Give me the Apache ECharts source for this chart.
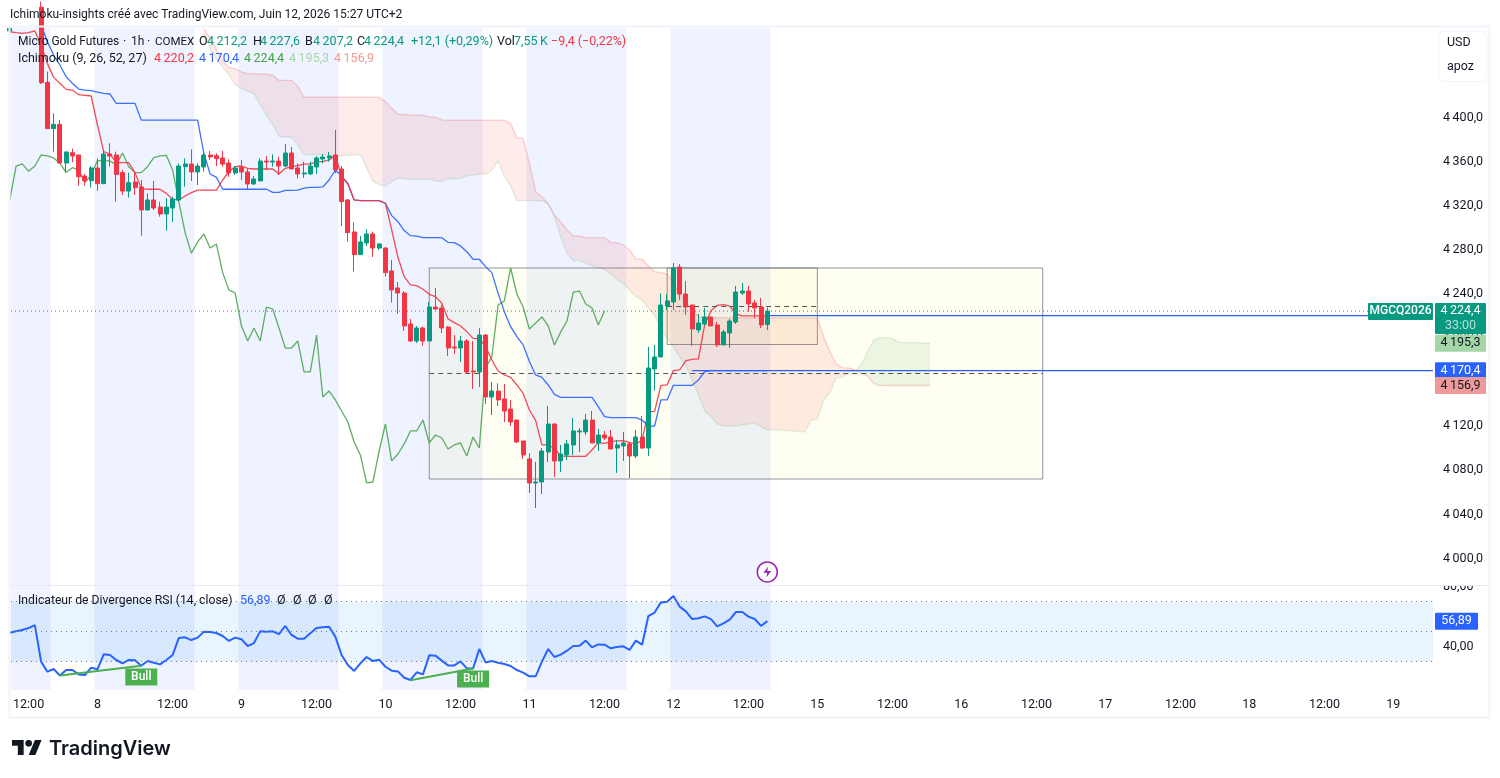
<!DOCTYPE html>
<html><head><meta charset="utf-8">
<style>html,body{margin:0;padding:0;background:#fff}#c{width:1500px;height:778px}</style>
<script src="https://cdn.jsdelivr.net/npm/echarts@6/dist/echarts.min.js"></script>
</head><body><div id="c"></div>
<script>
// hourly bars: index 0 of each array is bar -106 (bar 0 = June 12 00:00)
const firstBar = -106;
const opens = [4478.5,null,null,null,null,4500,4431.9,4389.9,4393.8,4358.7,
4368.1,4366,4346.9,4342.7,4354.2,4340,4366.9,4366,4350,4333.3,
4341.5,4337,4316.1,4325.2,4318.8,4312.5,4317.9,4325.2,4355.4,4357.8,
4350.6,4355.1,4366,4365.4,4363.3,4358.7,4349.7,4355.1,4350.6,4339.7,
4342.4,4360.5,4359.6,4360.5,4356,4367.8,4354.2,4348.8,4348.8,4355.1,
4362.4,4363.3,4366,4353.3,4325.2,4296.2,4275.6,4286.2,4294.4,4281.6,
4281.6,4260.8,4245.4,4240.8,4212.7,4197.3,4209.1,4197.3,4228.1,4227.2,
4210,4191.8,4190.9,4197.3,4170.1,4169.2,4202.7,4146.5,4151.9,4144.7,
4135.6,4125.6,4106.6,4090.3,4068.5,4069.4,4096.6,4122,4088.5,4093.9,
4103,4114.8,4114.8,4125.6,4104.8,4112,4110.2,4100.2,4102.1,4103.9,
4093,4110.2,4100.2,4171.9,4182.8,4229,4232.7,4264.4,4239.9,4229.9,
4207.3,4212.7,4219.1,4211.8,4193.7,4204.5,4214.5,4240.8,4242.6,4231.8,
4228.1,4212.2];
const closes = [4481,null,null,null,null,4431.6,4389.9,4393.8,4358.7,4368.7,
4365.1,4346.3,4342.7,4354.2,4340,4366.9,4365,4348.2,4333.3,4340.9,
4336.4,4316.1,4325.2,4317.9,4312.5,4318.8,4326.1,4356,4357.8,4350.6,
4356,4366,4364.2,4362.7,4357.8,4349.7,4354.2,4350.6,4339.7,4344.2,
4360.5,4359.6,4360.5,4356,4367.8,4353.3,4348.8,4349.7,4356,4363.3,
4364.2,4365.1,4352.4,4323.7,4295.6,4275.6,4287.1,4294.4,4281.6,4285.3,
4259.3,4243.6,4240.8,4210.9,4197.3,4209.1,4197.3,4228.1,4226.3,4209.1,
4190.9,4190.9,4197.3,4169.2,4169.2,4202.7,4146.5,4151.9,4143.8,4133.8,
4123.8,4105.7,4093.9,4068.5,4069.4,4097.5,4122,4088.5,4094.8,4103.9,
4115.7,4115.7,4125.6,4104.8,4112,4109.3,4099.3,4103,4104.8,4093,
4110.2,4100.2,4172.8,4182.8,4229.9,4233.6,4263.5,4239.9,4228.1,4208.2,
4213.6,4219.1,4210.9,4193.7,4205.5,4215.4,4241.7,4242.6,4230.9,4227.2,
4211.8,4224.4];
const lows = [4478,null,null,null,null,4430.4,4389.9,4369,4358.7,4350,
4359.6,4338.2,4338.2,4336.4,4333.6,4340,4355.4,4323.7,4329.7,4327.3,
4329.7,4292.8,4316.1,4316.1,4310.1,4297.4,4305.2,4323.7,4337.3,4342.4,
4338.8,4350.9,4361.5,4356,4355.4,4346.3,4347.9,4343.3,4335.2,4338.8,
4342.4,4352.4,4355.4,4347.9,4355.1,4353.3,4344.8,4345.1,4347.9,4348.8,
4358.4,4359.9,4349.4,4301.6,4287.4,4260.2,4275.6,4283.5,4273.5,4279.8,
4255.7,4232.1,4221.8,4206.4,4196.4,4195.5,4192.8,4197.3,4225.4,4204.6,
4183.7,4185.5,4178.3,4167.4,4153.8,4155.6,4140.2,4130.2,4138.3,4123.8,
4120.2,4104.8,4090.3,4059.4,4045.8,4058.5,4087.6,4073.9,4078.5,4089.4,
4093.9,4096.6,4112,4104.8,4097.5,4107.5,4099.3,4077.6,4088.5,4073,
4091.2,4099.3,4093,4152.2,4182.8,4225.4,4225.4,4234.5,4220.9,4192.8,
4204.5,4210.9,4210.9,4191.9,4193.7,4190.9,4212.7,4239,4223.9,4218.1,
4209.1,4207.2];
const highs = [4482,null,null,null,null,4505,4441.6,4403.8,4397.7,4369.3,
4371.7,4366,4348.8,4356,4363,4369.6,4376.6,4369,4352.4,4350,
4350,4343.3,4331.2,4342.4,4323.7,4326.7,4328.2,4358.4,4363,4371.1,
4358.4,4369.6,4369.6,4367.5,4369.6,4362,4356,4361.5,4353.3,4346.9,
4363,4365.1,4366.6,4364.5,4376,4373.2,4358.4,4359.9,4359.9,4365.1,
4366.9,4368.7,4388.7,4356,4326,4304.9,4292.5,4298.6,4296.5,4285.9,
4282.3,4270.8,4250.8,4242.6,4217.3,4210.9,4210.3,4232.7,4245.4,4229.9,
4210.9,4202.7,4201.8,4199.1,4197.3,4208.8,4203.6,4160.1,4158.9,4158.3,
4143.8,4125.6,4106.6,4095.4,4087.6,4100.2,4138.3,4122.6,4103,4107.5,
4127.4,4118.4,4131.1,4133.8,4117.5,4115.7,4116.6,4107.5,4114.8,4106,
4116.6,4129.3,4191.9,4193.7,4240.5,4239.9,4268,4267.1,4251.7,4229.9,
4221.8,4227.2,4219.1,4214.5,4207.3,4217.2,4247.2,4249.9,4247.2,4234.5,
4236.3,4227.6];
// Ichimoku
const tenkan = [4477.8,4476.9,4476.3,4476.9,4478.5,4465.8,4449.1,4436.4,4431,4425.5,
4424.9,4420.7,4420.1,4419.5,4393.2,4369,4366.9,4359,4359,4359,
4350,4335.8,4334.9,4334.9,4334.9,4331.2,4325.8,4325.2,4328.8,4331.8,
4334.2,4334.2,4334.2,4334.2,4343.3,4350.9,4355.4,4356,4353.9,4353.3,
4353.3,4353.3,4353.3,4348.8,4353.9,4355.4,4356.3,4357.8,4357.8,4359.9,
4359.9,4361.5,4366,4346.3,4340.3,4325.2,4324.6,4324.6,4324.6,4324.6,
4322.2,4298,4273.2,4255.6,4248.1,4247.5,4244.2,4239.6,4237.5,4231.5,
4217.3,4213.9,4210.9,4205.8,4199.7,4199.4,4192.2,4180,4170.1,4166.5,
4164.3,4157.4,4149.8,4134.7,4125,4103,4103,4100,4093,4092.7,
4092.7,4092.7,4092.7,4098.4,4105.1,4104.5,4106,4106.6,4106.9,4105.1,
4103.9,4107.5,4132.9,4133.5,4157.1,4157.4,4170.4,4171,4179.5,4180.7,
4181,4211.8,4224.8,4229.6,4230.2,4229,4221.8,4220,4220,4220,
4220,4220.2];
const kijunStart = -101;
const kijun = [4484,4468.8,4456.7,4447.6,4437,4431,4425.8,4424.9,4424.3,4423.1,
4421.9,4421.3,4412.8,4412.8,4412.8,4412.8,4397.7,4397.7,4397.7,4397.7,
4397.7,4397.7,4397.7,4397.7,4397.7,4397.7,4367.5,4348.8,4345.7,4334.9,
4334.9,4334.9,4334.9,4334.9,4334.9,4334.9,4334.9,4332.1,4332.1,4333.9,
4333.9,4334.2,4336,4336.7,4336.7,4337,4343.3,4352.4,4346.9,4339.7,
4325.2,4324.6,4324.6,4324.6,4324.6,4322.2,4311,4305.5,4297.4,4292.8,
4292.5,4291,4291,4291,4291,4286.8,4286.5,4283.5,4278.3,4271.4,
4271.4,4264.7,4259.3,4240.5,4223.9,4210.3,4201.2,4193.7,4178.6,4166.5,
4164.3,4157.4,4148.9,4146.2,4146.2,4146.2,4146.2,4146.2,4146.2,4137.7,
4128.7,4127.8,4127.8,4127.8,4127.8,4127.8,4125.6,4119.9,4120.2,4143.8,
4143.8,4157.1,4157.1,4157.1,4157.1,4161.9,4169.5,4170.4,4170.4,4170.4,
4170.4,4170.4,4170.4,4170.4,4170.4,4170.4,4170.4];
const chikou = [4325.2,4356,4357.9,4351.2,4356,4366,4365.1,4363.3,4358.5,4350.3,
4354.5,4352.4,4340.9,4347.9,4360.9,4360.9,4360.6,4357,4367.8,4355.4,
4350,4350,4355.4,4363.6,4365.1,4365.7,4352.4,4323.7,4295.6,4277,
4287.1,4294.4,4281.6,4285.3,4259.3,4243.6,4240.8,4210.9,4197.3,4209.1,
4197.3,4228.1,4226.3,4209.1,4190.9,4190.9,4197.3,4169.2,4169.2,4202.7,
4146.5,4151.9,4143.8,4133.8,4123.8,4105.7,4093.9,4068.5,4069.4,4097.5,
4122,4088.5,4094.8,4103.9,4115.7,4115.7,4125.6,4104.8,4112,4109.3,
4099.3,4103,4104.8,4093,4110.2,4100.2,4172.8,4182.8,4229.9,4233.6,
4263.5,4239.9,4228.1,4208.2,4213.6,4219.1,4210.9,4193.7,4205.5,4215.4,
4241.7,4242.6,4230.9,4227.2,4211.8,4224.4];
const cloudStart = -75;
const leadA = [4475.8,4462.5,4453.4,4445.5,4438.9,4429.8,4426.2,4423.8,4421.6,4411.7,
4402,4393.5,4382.9,4382.3,4382.3,4375.4,4366.3,4366.3,4366.3,4366.3,
4365.1,4364.8,4365.1,4365.7,4366,4366.3,4354.2,4342.1,4339.1,4337.9,
4341.8,4345.2,4344.5,4343.9,4343.9,4343.9,4343.9,4342.4,4341.8,4344.5,
4344.5,4344.8,4347,4347.9,4348.5,4348.5,4351.8,4360.6,4346.4,4337.9,
4324.6,4324.6,4324.6,4324.6,4324.6,4321.6,4310.1,4291.9,4276.8,4270.2,
4270.2,4267.8,4265.6,4263.8,4262.3,4258,4253,4249.6,4243.5,4237.5,
4234.5,4226.9,4220.9,4207.9,4199.7,4192.1,4183.1,4174.6,4161.9,4148.3,
4134.1,4128.7,4122,4120.2,4120.2,4120.2,4121.1,4122,4122.6,4119.6,
4116.6,4116.6,4116.6,4116,4115.7,4115.4,4114.7,4125.6,4126.2,4143.8,
4150.4,4164,4164.3,4168.6,4169.5,4175.5,4187.6,4198.2,4200.3,4200.3,
4199.7,4196.1,4195.8,4195.8,4195.8,4195.5,4195.3];
const leadB = [4480.3,4472.1,4461.5,4451,4445.5,4444.3,4441.3,4439.8,4439.8,4439.5,
4439.2,4438.3,4433.7,4433.7,4433.7,4428.3,4418.3,4418.3,4418.3,4418.3,
4418.3,4418.3,4418.3,4418.3,4418.3,4418.3,4418.3,4418.3,4418.3,4414.4,
4408.3,4402.9,4402.7,4402.3,4402,4402,4400.8,4400.2,4397.8,4397.5,
4397.5,4397.5,4397.5,4397.5,4397.5,4397.5,4397.5,4397.5,4397.5,4394.7,
4381.4,4381.1,4358.5,4332.5,4328.2,4321.6,4311.6,4305.5,4298,4292.8,
4292.5,4291,4291,4291,4291,4286.5,4286.5,4284.4,4279.8,4271.7,
4271.4,4265.3,4260.2,4259.3,4258.1,4250.2,4240.5,4233,4226.9,4219.4,
4218.5,4218.5,4218.5,4218.5,4218.5,4218.5,4218.5,4218.2,4218.2,4218.2,
4218.2,4218.2,4218.2,4218.2,4218.2,4218.2,4218.2,4218.2,4217.9,4201.2,
4187.6,4176.4,4173.1,4172.8,4171,4168,4165.6,4158.9,4156.8,4156.9,
4156.9,4156.9,4156.9,4156.9,4156.9,4156.9,4156.9];
// RSI (starts at firstBar)
const rsi = [49.2,50.1,51,52.3,54.3,29.9,23.2,25,20.6,24.3,
24.3,21.4,21,25.9,24.8,34.8,34.3,31,28.8,31,
30.8,27.2,30.3,29.2,28.1,31,34.3,45.7,46.1,44.3,
45.9,49.9,49.7,49,47,43.7,45.9,44.8,40.3,42.3,
50.1,49.9,50.1,48.3,53.7,47.7,45.2,45.2,48.8,52.3,
52.8,53.2,46.6,34.3,27.7,23.7,28.8,33,30.3,31.2,
26.5,23.9,23.4,19.2,17.7,22.8,21.4,34.1,33.9,30.6,
27.4,27.4,30.1,25.4,25.4,38.3,29.4,30.3,29.2,28.3,
27,24.3,22.6,20.1,20.1,29.9,38.3,33,34.6,37.2,
40.3,40.5,43.9,39.4,41.4,41.2,38.8,39.7,40.1,37.7,
43.9,41.2,60.3,62.6,69.4,69.9,73.7,66.6,63.4,58.3,
58.8,60.1,58.3,53.4,55.4,57.9,63,63,59.9,58.3,
53.7,56.89];
const rsiLevels = [70,50,30];
const bullLines = [[[-98,20.6],[-85,27.2]],[[-42,17.5],[-32,25.4]]];
const bullTags = [[-85,19.7],[-32,18.3]];
// session shading, drawings
const sessionStarts = [-115.5,-92.5,-69.5,-46.5,-23.5,-0.5];
const sessionEnds = [-99.5,-76.5,-53.5,-30.5,-7.5,15.5];
const boxes = [[-39,59,4263.5,4072.1],[-1,23,4263.5,4194.1]];
const lastPrice = 4224.4;
const rays = [[15,4220.3],[3,4170.4]];
const priceTicks = [4000,4040,4080,4120,4160,4200,4240,4280,4320,4360,4400];
const rsiTicks = [40,80];
const timeTicks = [-103,-92,-80,-69,-57,-46,-34,-23,-11,0,12,23,35,46,58,69,81,92,104,115];
const timeLabels = ['12:00','8','12:00','9','12:00','10','12:00','11','12:00','12','12:00','15','12:00','16','12:00','17','12:00','18','12:00','19'];
const xMin = -105.81, xMax = 121.34;
const yTop = 4481.18, yBottom = 3975.96;

const FONT = 'Roboto';
const TEXT = '#131722', TEAL = '#089981', RED = '#F23645', BLUE = '#2962FF';
const fmt = (v, d) => { const s = v.toFixed(d).replace('.', ','); return v >= 1000 ? s[0] + '\u2009' + s.slice(1) : s; };
const series2 = (start, arr) => arr.map((v, i) => [start + i, v]);

const candleData = [];
opens.forEach((o, i) => { if (o !== null) candleData.push([firstBar + i, o, closes[i], lows[i], highs[i]]); });
const cloudData = leadA.map((a, i) => [cloudStart + i, a, leadB[i]]);

function renderCloud(params, api) {
  if (params.dataIndex !== 0) return null;
  const runs = [];
  let cur = null;
  cloudData.forEach((row, i) => {
    const up = row[1] >= row[2];
    if (!cur || cur.up !== up) {
      let cross = null;
      if (cur) {
        const p = cloudData[i - 1], d0 = p[1] - p[2], d1 = row[1] - row[2], t = d0 / (d0 - d1);
        cross = [p[0] + t, p[1] + t * (row[1] - p[1])];
        cur.pts.push({ k: cross[0], a: cross[1], b: cross[1] });
        runs.push(cur);
      }
      cur = { up, pts: cross ? [{ k: cross[0], a: cross[1], b: cross[1] }] : [] };
    }
    cur.pts.push({ k: row[0], a: row[1], b: row[2] });
  });
  runs.push(cur);
  return {
    type: 'group',
    children: runs.map(r => ({
      type: 'polygon',
      shape: { points: r.pts.map(p => api.coord([p.k, p.a])).concat(r.pts.slice().reverse().map(p => api.coord([p.k, p.b]))) },
      style: { fill: r.up ? 'rgba(76,175,80,0.11)' : 'rgba(244,67,54,0.105)', stroke: null }
    }))
  };
}

const lineStyleOf = (c, w, t) => ({ color: c, width: w, type: t || 'solid' });
const chart = echarts.init(document.getElementById('c'), null, { renderer: 'canvas' });

const xAxisBase = { type: 'value', min: xMin, max: xMax, splitLine: { show: false }, axisLine: { show: false }, axisTick: { show: false } };
const yAxisBase = { type: 'value', position: 'right', splitLine: { show: false }, axisLine: { show: false }, axisTick: { show: false } };

chart.setOption({
  animation: false,
  backgroundColor: '#ffffff',
  textStyle: { fontFamily: FONT },
  grid: [
    { left: 11, top: 28, width: 1422, height: 557, containLabel: false },
    { left: 11, top: 586, width: 1422, height: 104, containLabel: false }
  ],
  xAxis: [
    Object.assign({ gridIndex: 0, axisLabel: { show: false } }, xAxisBase),
    Object.assign({ gridIndex: 1, axisLabel: { show: true, customValues: timeTicks, margin: 8, color: TEXT, fontSize: 12.5, fontFamily: FONT,
      hideOverlap: false, showMinLabel: true, showMaxLabel: true,
      formatter: v => timeLabels[timeTicks.indexOf(v)] } }, xAxisBase)
  ],
  yAxis: [
    Object.assign({ gridIndex: 0, min: yBottom, max: yTop, axisLabel: { customValues: priceTicks, margin: 10, color: TEXT, fontSize: 12.5, fontFamily: FONT, formatter: v => fmt(v, 1) } }, yAxisBase),
    Object.assign({ gridIndex: 1, min: 11, max: 80.33, axisLabel: { customValues: rsiTicks, margin: 10, color: TEXT, fontSize: 12.5, fontFamily: FONT, formatter: v => fmt(v, 2) } }, yAxisBase)
  ],
  series: [
    { name: 'sessions', type: 'line', data: [], xAxisIndex: 0, yAxisIndex: 0, z: 0, silent: true,
      markArea: { silent: true, itemStyle: { color: 'rgba(41,98,255,0.08)' },
        data: sessionStarts.map((s, i) => [{ xAxis: Math.max(s, xMin) }, { xAxis: sessionEnds[i] }]) } },
    { name: 'sessionsRsi', type: 'line', data: [], xAxisIndex: 1, yAxisIndex: 1, z: 0, silent: true,
      markArea: { silent: true, itemStyle: { color: 'rgba(41,98,255,0.08)' },
        data: sessionStarts.map((s, i) => [{ xAxis: Math.max(s, xMin) }, { xAxis: sessionEnds[i] }]) } },
    { name: 'boxes', type: 'line', data: [], xAxisIndex: 0, yAxisIndex: 0, z: 1, silent: true,
      markArea: { silent: true, itemStyle: { color: 'rgba(255,235,59,0.06)', borderColor: 'rgba(110,112,120,0.75)', borderWidth: 1 },
        data: boxes.map(b => [{ coord: [b[0], b[2]] }, { coord: [b[1], b[3]] }]) },
      markLine: { silent: true, symbol: 'none', label: { show: false }, lineStyle: { color: '#555', width: 1, type: [5, 4] },
        data: boxes.map(b => [{ coord: [b[0], (b[2] + b[3]) / 2] }, { coord: [b[1], (b[2] + b[3]) / 2] }]) } },
    { name: 'cloud', type: 'custom', data: cloudData, xAxisIndex: 0, yAxisIndex: 0, z: 2, clip: true, silent: true,
      encode: { x: 0, y: [1, 2] }, renderItem: renderCloud },
    { name: 'Lead A', type: 'line', data: series2(cloudStart, leadA), symbol: 'none', z: 3, lineStyle: lineStyleOf('rgba(67,160,71,0.14)', 1.4) },
    { name: 'Lead B', type: 'line', data: series2(cloudStart, leadB), symbol: 'none', z: 3, lineStyle: lineStyleOf('rgba(242,54,69,0.2)', 1.4) },
    { name: 'Chikou', type: 'line', data: series2(firstBar, chikou), symbol: 'none', z: 4, lineStyle: lineStyleOf('rgba(67,160,71,0.85)', 1.3) },
    { name: 'Kijun', type: 'line', data: series2(kijunStart, kijun), symbol: 'none', z: 4, lineStyle: lineStyleOf('rgba(41,98,255,0.9)', 1.3) },
    { name: 'Tenkan', type: 'line', data: series2(firstBar, tenkan), symbol: 'none', z: 4, lineStyle: lineStyleOf('rgba(242,54,69,0.9)', 1.3) },
    { name: 'Candles', type: 'candlestick', data: candleData, encode: { x: 0, y: [1, 2, 3, 4] }, xAxisIndex: 0, yAxisIndex: 0, z: 5, barWidth: 4.5,
      itemStyle: { color: TEAL, color0: RED, borderColor: TEAL, borderColor0: RED, borderWidth: 1 } },
    { name: 'last price', type: 'line', data: [[xMin, lastPrice], [xMax, lastPrice]], symbol: 'none', z: 6, silent: true, lineStyle: lineStyleOf(TEAL, 1, [1, 3]) },
    ...rays.map((r, i) => ({ name: 'ray ' + i, type: 'line', data: [r, [xMax, r[1]]], symbol: 'none', z: 6, silent: true, lineStyle: lineStyleOf(BLUE, 1.2) })),
    { name: 'event', type: 'line', data: [], xAxisIndex: 0, yAxisIndex: 0, z: 6, silent: true,
      markPoint: { silent: true, label: { show: false },
        data: [
          { coord: [15, 3987.8], symbol: 'circle', symbolSize: 20, itemStyle: { color: '#fff', borderColor: '#9C27B0', borderWidth: 1.5 } },
          { coord: [15, 3987.8], symbol: 'path://M6 0L1 7H5L4 12L9 5H5Z', symbolSize: [8, 11], itemStyle: { color: '#9C27B0' } }
        ] } },
    { name: 'RSI band', type: 'line', data: [], xAxisIndex: 1, yAxisIndex: 1, z: 1, silent: true,
      markArea: { silent: true, itemStyle: { color: 'rgba(33,150,243,0.1)' },
        data: [[{ coord: [xMin, rsiLevels[0]] }, { coord: [xMax, rsiLevels[2]] }]] },
      markLine: { silent: true, symbol: 'none', label: { show: false }, lineStyle: { color: '#787B86', width: 1, type: [1, 4] },
        data: rsiLevels.map(v => ({ yAxis: v })) } },
    { name: 'RSI', type: 'line', data: series2(firstBar, rsi), xAxisIndex: 1, yAxisIndex: 1, symbol: 'none', z: 4, lineStyle: lineStyleOf(BLUE, 2),
      markPoint: { silent: true, z: 6,
        data: bullTags.map(b => ({ coord: b, symbol: 'rect', symbolSize: [32, 17], itemStyle: { color: '#4CAF50' },
          label: { show: true, formatter: 'Bull', color: '#fff', fontSize: 12, fontWeight: 500, fontFamily: FONT, position: 'inside' } })) } },
    ...bullLines.map((l, i) => ({ name: 'Bull line ' + i, type: 'line', data: l, xAxisIndex: 1, yAxisIndex: 1, symbol: 'none', z: 5, lineStyle: lineStyleOf('#4CAF50', 2) }))
  ].map(s => (s.xAxisIndex === undefined ? Object.assign(s, { xAxisIndex: 0, yAxisIndex: 0 }) : s))
});

// overlay text and price tags
const F12 = '12.5px "' + FONT + '"';
const F11 = '12px "' + FONT + '"';
const T = (x, y, text, fill, o) => ({ type: 'text', z: 100, x, y, silent: true,
  style: Object.assign({ text, fill, font: F12, textVerticalAlign: 'middle', textBaseline: 'middle' }, o || {}) });
const py = v => chart.convertToPixel({ yAxisIndex: 0 }, v);
const ry = v => chart.convertToPixel({ yAxisIndex: 1 }, v);
const tag = (y, h1, h2, fill, label, color, sub) => [
  { type: 'rect', z: 99, silent: true, shape: { x: 1435, y: y - h1, width: 51, height: h1 + h2, r: 1 }, style: { fill } },
  T(1460.5, y, label, color, { textAlign: 'center', font: F12 })
].concat(sub ? [T(1460.5, y + 15, sub, 'rgba(255,255,255,0.7)', { textAlign: 'center', font: F12 })] : []);

const graphics = [
  { type: 'rect', z: 90, silent: true, shape: { x: 1434, y: 575, width: 55, height: 10 }, style: { fill: '#fff' } },
  { type: 'rect', z: 91, silent: true, shape: { x: 9.5, y: 26.5, width: 1480, height: 691 }, style: { fill: null, stroke: '#f0f3fa', lineWidth: 2 } },
  { type: 'rect', z: 91, silent: true, shape: { x: 11, y: 585, width: 1478, height: 1 }, style: { fill: '#e8eaef' } },
  { type: 'rect', z: 92, silent: true, shape: { x: 1438.5, y: 31.5, width: 48, height: 50, r: 5 }, style: { fill: '#fff', stroke: '#f0f3fa', lineWidth: 1 } },
  T(1447, 43, 'USD', TEXT, { font: F12 }),
  T(1447, 67, 'apoz', TEXT, { font: F12 }),
  T(10, 15, 'Ichimoku-insights créé avec TradingView.com, Juin 12, 2026 15:27 UTC+2', TEXT, { font: F11 }),
  T(18, 42, 'Micro Gold Futures', TEXT, { font: F11 }), T(123, 42, '·', TEXT), T(131, 42, '1h', TEXT, { font: F11 }), T(147, 42, '·', TEXT), T(155, 42, 'COMEX', TEXT, { font: '11.5px "' + FONT + '"' }),
  T(199, 42, 'O', TEXT), T(207, 42, fmt(4212.2, 1), TEAL),
  T(253, 42, 'H', TEXT), T(260, 42, fmt(4227.6, 1), TEAL),
  T(305, 42, 'B', TEXT), T(313, 42, fmt(4207.2, 1), TEAL),
  T(357, 42, 'C', TEXT), T(364, 42, fmt(4224.4, 1), TEAL),
  T(411, 42, '+12,1 (+0,29%)', TEAL),
  T(497, 42, 'Vol', TEXT), T(514, 42, '7,55\u2009K', TEAL),
  T(551, 42, '−9,4 (−0,22%)', RED),
  T(18, 59, 'Ichimoku (9, 26, 52, 27)', TEXT),
  T(154, 59, fmt(4220.2, 1), RED), T(199, 59, fmt(4170.4, 1), BLUE), T(244, 59, fmt(4224.4, 1), '#43A047'),
  T(289, 59, fmt(4195.3, 1), '#A5D6A7'), T(334, 59, fmt(4156.9, 1), '#EF9A9A'),
  T(18, 601, 'Indicateur de Divergence RSI (14, close)', TEXT, { font: '12.2px "' + FONT + '"' }),
  T(240, 601, '56,89', BLUE),
  T(277, 601, 'Ø', TEXT), T(293, 601, 'Ø', TEXT), T(308, 601, 'Ø', TEXT), T(324, 601, 'Ø', TEXT),
  { type: 'rect', z: 99, silent: true, shape: { x: 1368, y: py(4224.4) - 8, width: 65, height: 17, r: 1 }, style: { fill: TEAL } },
  T(1400.5, py(4224.4), 'MGCQ2026', '#fff', { textAlign: 'center', font: '500 12px "' + FONT + '"' }),
  ...tag(py(4195.3), 8.5, 8.5, '#A5D6A7', fmt(4195.3, 1), TEXT),
  ...tag(py(4224.4), 8, 23, TEAL, fmt(4224.4, 1), '#fff', '33:00'),
  ...tag(py(4170.4), 8.5, 7.5, BLUE, fmt(4170.4, 1), '#fff'),
  ...tag(py(4156.9), 8.5, 8.5, '#EF9A9A', fmt(4156.9, 1), TEXT),
  { type: 'rect', z: 99, silent: true, shape: { x: 1435, y: ry(56.89) - 8.5, width: 43, height: 17, r: 1 }, style: { fill: BLUE } },
  T(1456.5, ry(56.89), '56,89', '#fff', { textAlign: 'center', font: F12 }),
  { type: 'polygon', z: 100, silent: true, shape: { points: [[23.67,755],[17.83,755],[17.83,745.83],[12,745.83],[12,740],[23.67,740]] }, style: { fill: '#131722' } },
  { type: 'polygon', z: 100, silent: true, shape: { points: [[35.33,755],[28.67,755],[34.92,740],[41.58,740]] }, style: { fill: '#131722' } },
  { type: 'circle', z: 100, silent: true, shape: { cx: 28.67, cy: 743.33, r: 3.33 }, style: { fill: '#131722' } },
  T(49, 748.5, 'TradingView', '#131722', { font: '600 20px "Inter"' })
];
chart.setOption({ graphic: { elements: graphics } });
</script></body></html>
